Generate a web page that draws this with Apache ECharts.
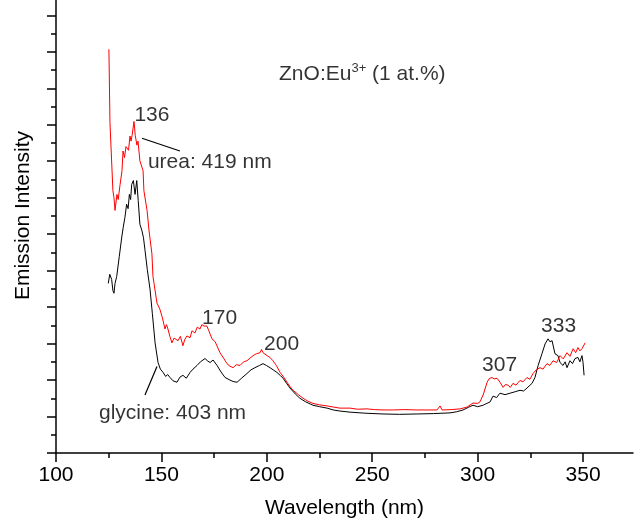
<!DOCTYPE html>
<html><head><meta charset="utf-8">
<script src="https://cdn.jsdelivr.net/npm/echarts@6/dist/echarts.min.js"></script>
<style>html,body{margin:0;padding:0;background:#fff}#c{width:635px;height:524px}</style>
</head><body><div id="c"></div>
<script>
// urea (red) curve
const ureaNm = [125.1,125.6,126.1,127.0,127.5,128.0,128.9,129.5,130.4,131.3,131.8,132.5,133.2,133.7,134.4,135.1,135.6,136.1,137.0,137.6,138.4,138.9,139.8,141.3,141.7,143.2,144.1,145.5,146.0,146.5,147.9,149.3,150.5,151.7,152.4,153.1,154.0,155.0,156.0,157.9,159.0,160.2,161.0,162.1,163.6,164.5,165.9,167.0,168.3,169.2,170.2,171.6,172.5,174.0,175.5,177.8,179.5,181.1,182.5,184.0,185.5,187.3,189.0,190.6,192.0,193.5,195.0,196.8,197.5,198.2,199.0,200.1,201.5,202.9,204.5,206.3,208.0,209.6,211.0,212.4,215.0,217.2,219.5,221.9,225.0,228.6,231.5,234.7,239.5,243.0,247.5,251.0,255.1,260.0,265.0,271.2,276.0,280.7,282.2,283.1,287.5,291.7,295.0,297.8,300.0,301.1,302.6,304.5,305.5,306.8,307.8,309.2,310.6,312.1,313.2,314.4,315.5,316.8,318.2,320.1,321.5,323.4,324.8,326.3,327.8,329.6,331.0,332.9,334.2,335.8,337.5,339.1,340.6,342.4,343.8,345.3,346.5,347.6,348.5,349.5,351.0];
const ureaI = [11.07,9.06,9.04,7.19,7.00,6.65,7.09,6.95,7.36,7.74,8.28,8.10,8.40,8.44,8.30,8.69,8.55,8.71,9.09,8.70,8.44,8.55,8.01,7.74,7.19,6.65,6.11,5.46,4.84,4.65,4.11,3.94,3.70,3.40,3.52,3.40,3.20,3.02,3.15,3.08,3.20,2.94,3.10,3.21,3.16,3.35,3.29,3.45,3.40,3.52,3.48,3.48,3.35,3.13,3.05,2.75,2.60,2.45,2.38,2.34,2.42,2.40,2.50,2.53,2.60,2.67,2.72,2.75,2.84,2.75,2.80,2.67,2.62,2.53,2.40,2.21,2.08,1.94,1.82,1.72,1.60,1.50,1.42,1.36,1.32,1.29,1.26,1.23,1.23,1.20,1.21,1.19,1.18,1.18,1.19,1.18,1.18,1.18,1.29,1.18,1.19,1.21,1.26,1.37,1.36,1.40,1.59,1.94,2.04,2.07,2.03,2.05,1.94,1.80,1.88,1.86,1.80,1.91,1.86,1.99,1.95,2.07,2.02,2.18,2.28,2.34,2.30,2.45,2.40,2.53,2.48,2.67,2.58,2.75,2.65,2.86,2.75,2.89,2.80,2.86,3.02];
// glycine (black) curve
const glyNm = [124.8,125.5,126.4,127.0,127.5,128.0,128.8,130.0,131.2,131.9,132.7,133.5,134.2,134.8,135.4,135.9,136.7,137.5,138.3,139.0,139.8,140.7,141.5,142.2,143.3,144.6,145.7,147.0,148.4,149.5,150.8,152.0,153.0,154.1,155.5,157.4,158.8,160.2,161.8,163.6,165.0,166.9,168.5,170.7,172.0,173.1,174.5,176.4,178.3,180.2,182.5,184.0,185.9,188.0,190.6,192.5,194.4,196.5,198.2,199.8,201.5,203.0,204.8,206.5,207.7,209.5,211.0,213.5,215.7,218.5,221.9,225.0,228.6,231.5,234.7,239.5,247.0,255.1,263.0,271.2,279.0,286.9,290.0,293.1,295.5,297.8,300.0,302.6,304.0,305.9,307.3,309.0,310.6,313.0,315.4,317.8,320.1,321.8,323.4,325.8,327.2,328.7,330.5,332.0,333.4,334.3,335.3,336.7,338.1,339.1,340.5,341.5,342.4,343.8,345.0,346.2,347.6,348.5,349.5,350.0,350.5];
const glyI = [4.65,4.90,4.76,4.45,4.38,4.65,4.84,5.38,5.92,6.19,6.46,6.82,6.70,7.09,6.95,7.36,7.47,7.09,7.47,6.92,6.27,6.11,5.90,5.57,5.03,4.49,3.83,3.02,2.48,2.30,2.21,2.10,2.15,2.07,1.98,1.94,2.08,2.13,2.05,2.21,2.30,2.40,2.50,2.59,2.52,2.48,2.55,2.40,2.22,2.07,2.00,1.96,1.94,2.05,2.18,2.28,2.34,2.40,2.45,2.40,2.34,2.28,2.21,2.12,2.05,1.90,1.78,1.62,1.50,1.40,1.31,1.27,1.23,1.18,1.15,1.12,1.09,1.07,1.06,1.07,1.08,1.10,1.13,1.18,1.25,1.31,1.27,1.31,1.35,1.40,1.56,1.52,1.64,1.60,1.64,1.68,1.72,1.70,1.78,1.91,2.07,2.40,2.72,2.99,3.13,3.05,3.08,2.72,2.67,2.48,2.40,2.50,2.34,2.53,2.45,2.59,2.62,2.50,2.67,2.48,2.13];

// ticks
const xMajorTicks = [100,150,200,250,300,350];
const xMinorTicks = [125,175,225,275,325];
const yMajorTicks = [0,1,2,3,4,5,6,7,8,9,10,11,12];
const yMinorTicks = [0.5,1.5,2.5,3.5,4.5,5.5,6.5,7.5,8.5,9.5,10.5,11.5];

// annotations (data coordinates)
const peakLabels = ['136','170','200','307','333'];
const peakX = [145.5,177.6,207.0,310.4,338.4];
const peakY = [9.25,3.69,2.97,2.40,3.47];
const sideLabels = ['urea: 419 nm','glycine: 403 nm'];
const sideX = [143.6,120.4];
const sideY = [7.98,1.10];
const titleX = 205.8, titleY = 10.38;
const ureaLeaderX = [140.8,158.8], ureaLeaderY = [8.63,8.28];
const glyLeaderX = [147.9,142.2], glyLeaderY = [2.37,1.59];

const FONT = 'Liberation Sans, Arial, Helvetica, sans-serif';
const FS = 21;
const zip = (a,b) => a.map((v,i)=>[v,b[i]]);

const chart = echarts.init(document.getElementById('c'), null, {renderer:'canvas'});
const xBase = {type:'value', min:100, max:373.7, position:'bottom', splitLine:{show:false}};
const yBase = {type:'value', min:0, max:12.42, position:'left', splitLine:{show:false}};
chart.setOption({
  animation:false,
  backgroundColor:'#fff',
  grid:{left:56, right:2, top:0, bottom:65.5, containLabel:false},
  xAxis:[
    Object.assign({}, xBase, {
      name:'Wavelength (nm)', nameLocation:'middle', nameGap:45,
      nameTextStyle:{color:'#000', fontSize:FS, fontFamily:FONT},
      axisLine:{show:true, lineStyle:{color:'#000', width:1.5}},
      axisTick:{show:true, inside:false, length:9, customValues:xMajorTicks, lineStyle:{color:'#000', width:1.5}},
      axisLabel:{show:true, customValues:xMajorTicks, margin:12, color:'#000', fontSize:FS, fontFamily:FONT}
    }),
    Object.assign({}, xBase, {
      axisLine:{show:false},
      axisTick:{show:true, inside:false, length:5, customValues:xMinorTicks, lineStyle:{color:'#000', width:1.5}},
      axisLabel:{show:false}
    })
  ],
  yAxis:[
    Object.assign({}, yBase, {
      name:'Emission Intensity', nameLocation:'middle', nameGap:22,
      nameTextStyle:{color:'#000', fontSize:FS, fontFamily:FONT, padding:[0,0,0,22]},
      axisLine:{show:true, lineStyle:{color:'#000', width:1.5}},
      axisTick:{show:true, inside:false, length:9, customValues:yMajorTicks, lineStyle:{color:'#000', width:1.5}},
      axisLabel:{show:false}
    }),
    Object.assign({}, yBase, {
      axisLine:{show:false},
      axisTick:{show:true, inside:false, length:5, customValues:yMinorTicks, lineStyle:{color:'#000', width:1.5}},
      axisLabel:{show:false}
    })
  ],
  series:[
    {type:'line', name:'glycine', data:zip(glyNm, glyI), showSymbol:false, symbol:'none',
     lineStyle:{color:'#000', width:1}, z:2},
    {type:'line', name:'urea', data:zip(ureaNm, ureaI), showSymbol:false, symbol:'none',
     lineStyle:{color:'#ff0000', width:1}, z:3},
    {type:'line', data:zip(ureaLeaderX, ureaLeaderY), showSymbol:false, symbol:'none', lineStyle:{color:'#000', width:1.2}},
    {type:'line', data:zip(glyLeaderX, glyLeaderY), showSymbol:false, symbol:'none', lineStyle:{color:'#000', width:1.2}},
    {type:'scatter', symbolSize:0, data:zip(peakX, peakY), silent:true,
     label:{show:true, position:'inside', formatter:p=>peakLabels[p.dataIndex], color:'#000', fontSize:FS, fontFamily:FONT}},
    {type:'scatter', symbolSize:0, data:zip(sideX, sideY), silent:true,
     label:{show:true, position:'right', distance:0, formatter:p=>sideLabels[p.dataIndex], color:'#000', fontSize:FS, fontFamily:FONT}},
    {type:'scatter', symbolSize:0, data:[[titleX, titleY]], silent:true,
     label:{show:true, position:'right', distance:0,
       formatter:'{a|ZnO:Eu}{s|3+}{a| (1 at.%)}',
       rich:{a:{color:'#000', fontSize:FS, fontFamily:FONT, lineHeight:24},
             s:{color:'#000', fontSize:13, fontFamily:FONT, verticalAlign:'top', lineHeight:24, padding:[0,0,10,0]}}}}
  ]
});
</script></body></html>
